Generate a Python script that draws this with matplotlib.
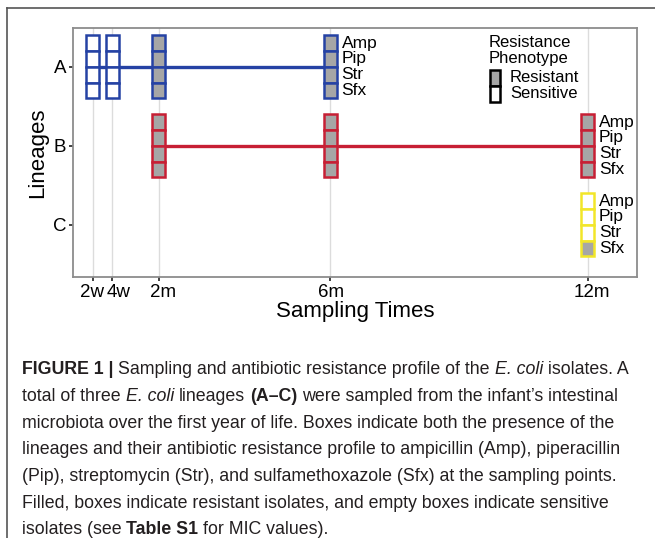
import matplotlib
matplotlib.use("Agg")
import matplotlib.pyplot as plt
from matplotlib.patches import Rectangle
from matplotlib.lines import Line2D
from matplotlib.transforms import ScaledTranslation

plt.rcParams['font.family'] = ['Liberation Sans', 'DejaVu Sans']

# ---- data ----
time_labels = ["2w", "4w", "2m", "6m", "12m"]
time_months = [0.46, 0.92, 2, 6, 12]
lineages = ["A", "B", "C"]
lineage_pos = [3, 2, 1]
drugs = ["Amp", "Pip", "Str", "Sfx"]

# sampling points and phenotype per drug (R resistant, S sensitive)
a_times = ["2w", "4w", "2m", "6m"]
a_profile = ["SSSS", "SSSS", "RRRR", "RRRR"]
b_times = ["2m", "6m", "12m"]
b_profile = ["RRRR", "RRRR", "RRRR"]
c_times = ["12m"]
c_profile = ["SSSR"]

lineage_colors = ["#2542a4", "#c71f34", "#f2e629"]
fill_res = "#a6a6a6"

W, H = 655, 538
fig = plt.figure(figsize=(W / 100, H / 100), dpi=100)
ax = fig.add_axes([73 / W, 1 - 277 / H, (637 - 73) / W, (277 - 28) / H])

tpos = dict(zip(time_labels, time_months))
box_w = 0.3
box_h = 0.2

series = [(a_times, a_profile), (b_times, b_profile), (c_times, c_profile)]
for (times, prof), lin, ypos, col in zip(series, lineages, lineage_pos, lineage_colors):
    xs = [tpos[t] for t in times]
    if len(xs) > 1:
        ax.plot([xs[0], xs[-1]], [ypos, ypos], color=col, lw=2.4, zorder=2,
                solid_capstyle='butt')
    for x, p in zip(xs, prof):
        for i, ph in enumerate(p):
            top = ypos + 2 * box_h - i * box_h
            fc = fill_res if ph == "R" else "white"
            ax.add_patch(Rectangle((x - box_w / 2, top - box_h), box_w, box_h,
                                   facecolor=fc, edgecolor=col, lw=1.8, zorder=3))
    # drug labels beside the last sampling point
    xl = xs[-1] + box_w / 2
    for i, d in enumerate(drugs):
        yc = ypos + 2 * box_h - (i + 0.5) * box_h
        ax.annotate(d, (xl, yc), xytext=(3.5, 0), textcoords='offset points',
                    va='center', ha='left', fontsize=12.5, color='black')

ax.set_xlim(0, 13.15)
ax.set_ylim(0.34, 3.49)
ax.set_xticks(time_months)
ax.set_xticklabels(time_labels)
ax.set_yticks(lineage_pos)
ax.set_yticklabels(lineages)
ax.tick_params(axis='both', labelsize=13.5, length=3, width=1.2, color='#222222',
               pad=2, labelcolor='black')
# the reference nudges the time labels a little sideways
label_shift_px = [-0.5, 6, 4, 1, 4]
for lab, dx in zip(ax.get_xticklabels(), label_shift_px):
    lab.set_transform(lab.get_transform() + ScaledTranslation(dx / 100, 0, fig.dpi_scale_trans))
ax.grid(axis='x', color='#dcdcdc', lw=1)
ax.set_axisbelow(True)
for s in ax.spines.values():
    s.set_color('#8c8c8c')
    s.set_linewidth(1.3)
ax.set_xlabel("Sampling Times", fontsize=16, labelpad=0)
ax.set_ylabel("Lineages", fontsize=16, labelpad=3)


# ---- legend (drawn by hand, positions in pixels of the panel) ----
def ax_px(px, py):
    return (px - 73) / 564, (277 - py) / 249


tx, ty = ax_px(489, 42)
ax.text(tx, ty, "Resistance", transform=ax.transAxes, fontsize=12, va='center', ha='left')
tx, ty = ax_px(489, 58)
ax.text(tx, ty, "Phenotype", transform=ax.transAxes, fontsize=12, va='center', ha='left')
key_fc = [fill_res, "white"]
key_lab = ["Resistant", "Sensitive"]
key_top = [70, 86]
for fc, lab, kt in zip(key_fc, key_lab, key_top):
    x0, y0 = ax_px(490, kt + 15.5)
    x1, y1 = ax_px(500, kt)
    ax.add_patch(Rectangle((x0, y0), x1 - x0, y1 - y0, transform=ax.transAxes,
                           facecolor=fc, edgecolor='black', lw=1.8, zorder=4))
    tx, ty = ax_px(510, kt + 7.5)
    ax.text(tx, ty, lab, transform=ax.transAxes, fontsize=12, va='center', ha='left')

# outer frame of the figure panel
fig.add_artist(Line2D([7 / W, 1], [1 - 8 / H, 1 - 8 / H], color='#555555', lw=1.2))
fig.add_artist(Line2D([7 / W, 7 / W], [0, 1 - 8 / H], color='#555555', lw=1.2))

# ---- caption ----
caption = [
    [("FIGURE 1 |", "bold", "normal"), ("Sampling and antibiotic resistance profile of the", "normal", "normal"),
     ("E. coli", "normal", "italic"), ("isolates. A", "normal", "normal")],
    [("total of three", "normal", "normal"), ("E. coli", "normal", "italic"), ("lineages", "normal", "normal"),
     ("(A\u2013C)", "bold", "normal"), ("were sampled from the infant\u2019s intestinal", "normal", "normal")],
    [("microbiota over the first year of life. Boxes indicate both the presence of the", "normal", "normal")],
    [("lineages and their antibiotic resistance profile to ampicillin (Amp), piperacillin", "normal", "normal")],
    [("(Pip), streptomycin (Str), and sulfamethoxazole (Sfx) at the sampling points.", "normal", "normal")],
    [("Filled, boxes indicate resistant isolates, and empty boxes indicate sensitive", "normal", "normal")],
    [("isolates (see", "normal", "normal"), ("Table S1", "bold", "normal"), ("for MIC values).", "normal", "normal")],
]
baselines = [374, 401, 427.5, 454, 481, 507.5, 534]
renderer = fig.canvas.get_renderer()
cap_color = '#231f20'


def text_w(s, size, weight, style):
    t = fig.text(0, 0, s, fontsize=size, fontweight=weight, fontstyle=style)
    w = t.get_window_extent(renderer).width
    t.remove()
    return w


def draw_line(runs, x0, yb, size, draw=True):
    sp = text_w("a a", size, "normal", "normal") - text_w("aa", size, "normal", "normal")
    x = x0
    for k, (s, weight, style) in enumerate(runs):
        if k > 0:
            x += sp
        if draw:
            fig.text(x / W, 1 - yb / H, s, fontsize=size, fontweight=weight,
                     fontstyle=style, va='baseline', ha='left', color=cap_color)
        x += text_w(s, size, weight, style)
    return x - x0


base = 10
w1 = draw_line(caption[0], 22, 0, base, draw=False)
cap_size = base * 610 / w1
for runs, yb in zip(caption, baselines):
    draw_line(runs, 22, yb, cap_size)

fig.savefig("out.png", dpi=100)
